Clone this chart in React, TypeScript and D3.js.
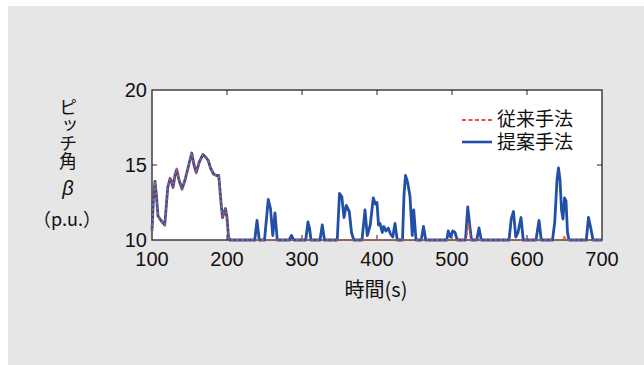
import React from 'react';
import * as d3 from 'd3';

// 提案手法 (blue) : [time s, pitch]
const proposedTimes = [
  100, 102, 104, 106, 108, 112, 117, 121, 124, 126, 128, 131, 133, 136, 140, 144, 148, 153, 156, 159,
  163, 168, 172, 175, 178, 182, 186, 189, 192, 194, 196, 198, 200, 202, 204,
  237, 240, 243, 250, 255, 258, 261, 264, 267, 283, 286, 289, 305, 308, 310, 312, 324, 327, 330,
  347, 350, 353, 356, 359, 363, 366, 369, 380, 384, 387, 391, 395, 398, 400, 402, 404, 407, 409,
  412, 415, 418, 421, 424, 427, 434, 436, 438, 441, 444, 447, 449, 452, 459, 462, 465,
  493, 495, 498, 501, 504, 507, 518, 521, 524, 526, 533, 536, 539, 576, 579, 582, 585, 588, 592, 595,
  612, 616, 619, 634, 637, 640, 642, 644, 646, 648, 650, 652, 654, 656, 679, 682, 685, 688, 700,
];
const proposedValues = [
  10.6, 12.8, 13.9, 12.9, 11.6, 11.3, 11.0, 13.5, 14.1, 13.9, 13.5, 14.4, 14.7, 14.0, 13.4, 14.0, 14.8, 15.8, 15.0, 14.5,
  15.2, 15.7, 15.5, 15.3, 14.8, 14.4, 14.3, 14.3, 12.5, 11.5, 11.8, 12.1, 11.5, 10.2, 10.0,
  10.0, 11.3, 10.0, 10.0, 12.7, 12.1, 10.3, 11.8, 10.0, 10.0, 10.3, 10.0, 10.0, 11.2, 10.8, 10.0, 10.0, 11.0, 10.0,
  10.0, 13.1, 12.9, 11.5, 12.3, 11.9, 10.5, 10.0, 10.0, 12.0, 10.3, 11.0, 12.8, 12.4, 12.5, 11.0, 11.1, 10.5, 10.9,
  10.6, 10.8, 10.4, 10.2, 11.1, 10.0, 10.0, 13.0, 14.3, 13.8, 12.9, 10.3, 12.0, 10.0, 10.0, 10.9, 10.0,
  10.0, 10.6, 10.2, 10.6, 10.5, 10.0, 10.0, 12.2, 10.8, 10.0, 10.0, 10.8, 10.0, 10.0, 11.4, 11.9, 10.2, 10.5, 11.5, 10.0,
  10.0, 11.3, 10.0, 10.0, 11.2, 14.0, 14.8, 14.0, 12.0, 11.4, 12.8, 12.6, 10.5, 10.0, 10.0, 11.5, 10.8, 10.0, 10.0,
];

// 従来手法 (red dashed)
const conventionalTimes = [
  100, 102, 104, 106, 108, 112, 117, 121, 124, 126, 128, 131, 133, 136, 140, 144, 148, 153, 156, 159,
  163, 168, 172, 175, 178, 182, 186, 189, 192, 194, 196, 198, 200, 202, 204,
  519, 522, 525, 648, 650, 652, 700,
];
const conventionalValues = [
  10.6, 12.8, 13.9, 12.9, 11.6, 11.3, 11.0, 13.5, 14.1, 13.9, 13.5, 14.4, 14.7, 14.0, 13.4, 14.0, 14.8, 15.8, 15.0, 14.5,
  15.2, 15.7, 15.5, 15.3, 14.8, 14.4, 14.3, 14.3, 12.5, 11.5, 11.8, 12.1, 11.5, 10.2, 10.0,
  10.0, 11.2, 10.0, 10.0, 10.3, 10.0, 10.0,
];

const xTicks = [100, 200, 300, 400, 500, 600, 700];
const yTicks = [10, 15, 20];
const legendLabels = ['従来手法', '提案手法'];
const yLabel = 'ピッチ角';

const W = 644;
const H = 365;
const plot = { left: 152, right: 602, top: 90, bottom: 240 };
const FONT = '"Liberation Sans", "Noto Sans CJK JP", sans-serif';
const JP = '"Noto Sans CJK JP", sans-serif';
const BLUE = '#2150a6';
const RED = '#e8533b';

export default function App() {
  const x = d3.scaleLinear().domain([100, 700]).range([plot.left, plot.right]);
  const y = d3.scaleLinear().domain([10, 20]).range([plot.bottom, plot.top]);

  const line = d3
    .line<[number, number]>()
    .x((d) => x(d[0]))
    .y((d) => y(d[1]));

  const proposed = proposedTimes.map((t, i) => [t, proposedValues[i]] as [number, number]);
  const conventional = conventionalTimes.map((t, i) => [t, conventionalValues[i]] as [number, number]);

  return (
    <svg width={W} height={H} style={{ position: 'absolute', left: 0, top: 0 }} fontFamily={FONT}>
      <rect x={0} y={0} width={W} height={H} fill="#fff" />
      <rect x={8} y={6} width={W - 8} height={H - 6} fill="#e6e6e6" />
      <rect
        x={plot.left}
        y={plot.top}
        width={plot.right - plot.left}
        height={plot.bottom - plot.top}
        fill="#fff"
        stroke="#333"
        strokeWidth={1.4}
      />

      {/* inward ticks */}
      {xTicks.slice(1, -1).map((t) => (
        <g key={'xt' + t} stroke="#222" strokeWidth={1}>
          <line x1={x(t)} x2={x(t)} y1={plot.bottom} y2={plot.bottom - 5} />
          <line x1={x(t)} x2={x(t)} y1={plot.top} y2={plot.top + 5} />
        </g>
      ))}
      {yTicks.slice(1, -1).map((v) => (
        <g key={'yt' + v} stroke="#222" strokeWidth={1}>
          <line x1={plot.left} x2={plot.left + 5} y1={y(v)} y2={y(v)} />
          <line x1={plot.right} x2={plot.right - 5} y1={y(v)} y2={y(v)} />
        </g>
      ))}

      <path d={line(proposed) ?? ''} fill="none" stroke={BLUE} strokeWidth={2.8} strokeLinejoin="round" />
      <path
        d={line(conventional) ?? ''}
        fill="none"
        stroke={RED}
        strokeWidth={1.6}
        strokeDasharray="3,2"
        opacity={0.85}
      />

      {xTicks.map((t) => (
        <text key={'xl' + t} x={x(t)} y={266} textAnchor="middle" fontSize={20} fill="#111">
          {t}
        </text>
      ))}
      {yTicks.map((v) => (
        <text key={'yl' + v} x={147} y={y(v) + 7} textAnchor="end" fontSize={20} fill="#111">
          {v}
        </text>
      ))}

      <text x={376} y={297} textAnchor="middle" fontSize={20} fill="#111" fontFamily={JP}>
        時間(s)
      </text>

      {/* vertical y label */}
      <text
        x={68}
        y={98}
        fontSize={18}
        fill="#111"
        fontFamily={JP}
        style={{ writingMode: 'vertical-rl' }}
      >
        {yLabel}
      </text>
      <text x={68} y={195} textAnchor="middle" fontSize={20} fontStyle="italic" fill="#111">
        β
      </text>
      <text x={67} y={226} textAnchor="middle" fontSize={18} fill="#111" fontFamily={JP}>
        （p.u.）
      </text>

      {/* legend */}
      <line x1={462} x2={492} y1={120} y2={120} stroke={RED} strokeWidth={2} strokeDasharray="4,2.5" />
      <text x={497} y={126} fontSize={19} fill="#111">
        {legendLabels[0]}
      </text>
      <line x1={462} x2={492} y1={142} y2={142} stroke={BLUE} strokeWidth={2.6} />
      <text x={497} y={149} fontSize={19} fill="#111">
        {legendLabels[1]}
      </text>
    </svg>
  );
}
